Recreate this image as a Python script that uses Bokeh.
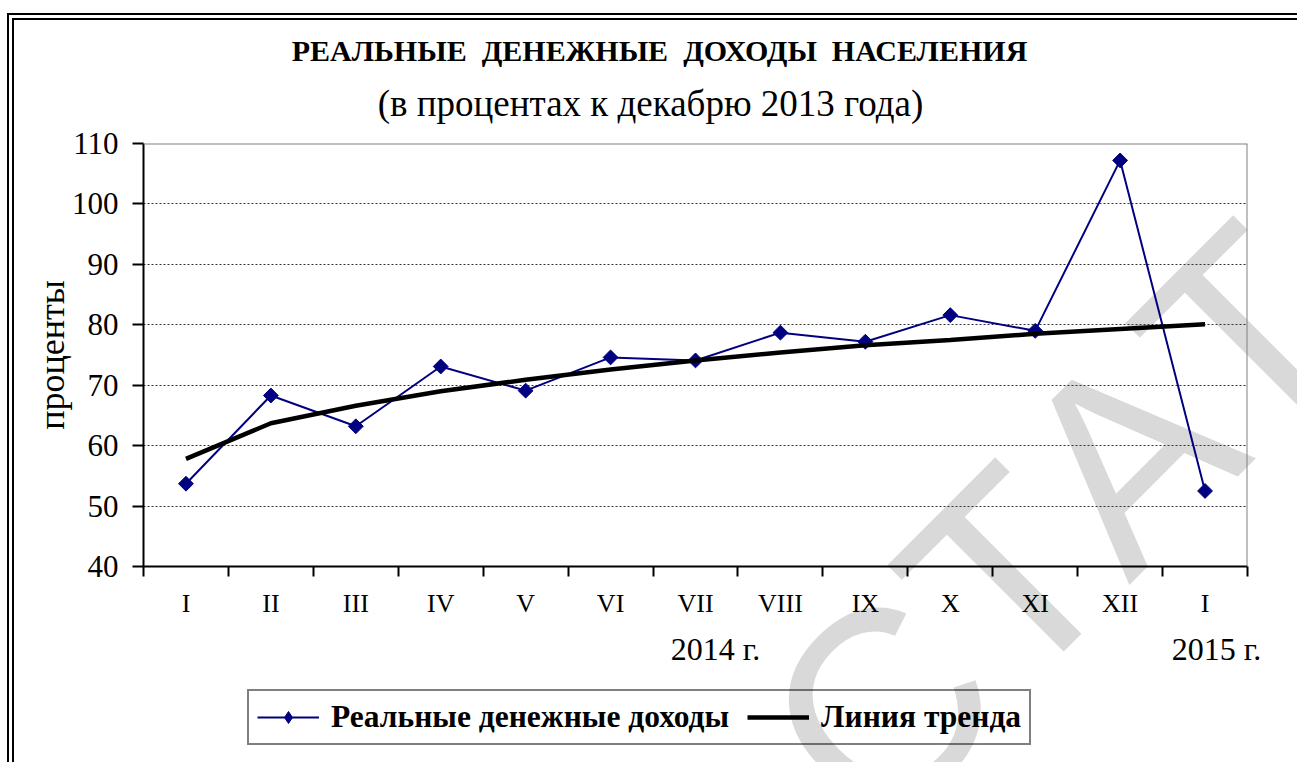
import numpy as np
from bokeh.plotting import figure
from bokeh.layouts import column
from bokeh.core.properties import value
from bokeh.models import (Range1d, FixedTicker, LinearAxis, Legend, LegendItem,
                          InlineStyleSheet, GlobalInlineStyleSheet, Span)
from bokeh.embed import file_html
from bokeh.resources import INLINE

# ---------------- data ----------------
months = ["I", "II", "III", "IV", "V", "VI", "VII", "VIII", "IX", "X", "XI", "XII", "I"]
incomes = [53.7, 68.3, 63.2, 73.1, 69.1, 74.6, 74.1, 78.7, 77.2, 81.6, 79.0, 107.2, 52.5]
trend = [57.8, 63.7, 66.6, 69.0, 70.9, 72.6, 74.1, 75.4, 76.6, 77.5, 78.5, 79.3, 80.1]
years = ["2014 г.", "2015 г."]
y_ticks = [40, 50, 60, 70, 80, 90, 100, 110]
grid_ticks = [50, 60, 70, 80, 90, 100]
title = "РЕАЛЬНЫЕ\u00a0 ДЕНЕЖНЫЕ\u00a0 ДОХОДЫ\u00a0 НАСЕЛЕНИЯ"
subtitle = "(в процентах к декабрю 2013 года)"
y_label = "проценты"
series_names = ["Реальные денежные доходы", "Линия тренда"]
watermark = ["С", "Т", "А", "Т"]

# ---------------- layout constants (page pixels) ----------------
OX, OY = 14, 20                 # canvas origin on the page (inside the double border)
W, H = 1300, 750                # canvas size (runs past the window edge, like the reference)
FL, FR, FT, FB = 143, 1247, 143, 566   # plot frame on the page
SERIF = "Liberation Serif"
xpos = [i + 0.5 for i in range(len(months))]

def dx(px):
    return (px - FL) / (FR - FL) * 13.0

# ---------------- background canvas: watermark, titles, legend ----------------
bg = figure(width=W, height=H, x_range=Range1d(OX, OX + W), y_range=Range1d(OY + H, OY),
            output_backend="svg", toolbar_location=None, min_border=0,
            min_border_left=0, min_border_right=0, min_border_top=0, min_border_bottom=0,
            x_axis_location=None, y_axis_location=None)
bg.frame_align = False
bg.grid.visible = False
bg.outline_line_color = None
bg.background_fill_color = "white"
bg.border_fill_color = "white"

wm_x = [880, 1006, 1126, 1244]
wm_y = [708, 576, 455, 334]
bg.text(x=wm_x, y=wm_y, text=watermark, angle=45, angle_units="deg",
        text_font=value("Liberation Sans"), text_font_size="270px",
        text_color="#d9d9d9", text_align="center", text_baseline="middle")

bg.text(x=[659], y=[50], text=[title], text_font=value(SERIF), text_font_style="bold",
        text_font_size="30px", text_align="center", text_baseline="alphabetic",
        text_color="black")
bg.text(x=[650], y=[103], text=[subtitle], text_font=value(SERIF),
        text_font_size="37px", text_align="center", text_baseline="alphabetic",
        text_color="black")

# legend key styles (same series, used only to draw the legend keys)
kl1 = bg.line(xpos, incomes, line_color="#000080", line_width=2, visible=False)
ks1 = bg.scatter(xpos, incomes, marker="diamond", size=14,
                 fill_color="#000080", line_color="#000080", visible=False)
kl2 = bg.line(xpos, trend, line_color="black", line_width=4.5, visible=False)
legend = Legend(items=[LegendItem(label=series_names[0], renderers=[kl1, ks1]),
                       LegendItem(label=series_names[1], renderers=[kl2])],
                orientation="horizontal", location=(247 - OX, OY + H - 745), margin=0,
                border_line_color="black", border_line_width=2,
                background_fill_alpha=0, inactive_fill_alpha=0,
                label_text_font=SERIF, label_text_color="black",
                label_text_font_style="bold", label_text_font_size="31.5px",
                glyph_width=62, glyph_height=30, label_standoff=12, spacing=18,
                padding=8)
bg.add_layout(legend)

# ---------------- main chart ----------------
p = figure(width=W, height=H, x_range=Range1d(0, 13), y_range=Range1d(40, 110),
           output_backend="svg", toolbar_location=None,
           min_border_left=FL - OX, min_border_right=OX + W - FR,
           min_border_top=FT - OY, min_border_bottom=OY + H - FB)
p.frame_align = False
p.background_fill_alpha = 0
p.border_fill_alpha = 0
p.outline_line_color = None
p.stylesheets = [InlineStyleSheet(css=":host{margin-top:-%dpx;}" % H)]

# grid
p.xgrid.visible = False
p.ygrid.ticker = FixedTicker(ticks=grid_ticks)
p.ygrid.grid_line_color = "#333333"
p.ygrid.grid_line_dash = "2 2"
p.ygrid.grid_line_width = 1

# plot area border (top / right)
p.add_layout(Span(location=110, dimension="width", line_color="#808080", line_width=2))
p.add_layout(Span(location=13, dimension="height", line_color="#808080", line_width=2))

# y axis
ya = p.yaxis[0]
ya.ticker = FixedTicker(ticks=y_ticks)
ya.axis_line_width = 2
ya.axis_line_color = "black"
ya.major_tick_line_width = 2
ya.major_tick_out = 11
ya.major_tick_in = 0
ya.minor_tick_line_color = None
ya.major_label_standoff = 14
ya.major_label_text_font = SERIF
ya.major_label_text_font_size = "31px"
ya.major_label_text_color = "black"
ya.axis_label = y_label
ya.axis_label_text_font = SERIF
ya.axis_label_text_font_size = "36px"
ya.axis_label_text_font_style = "normal"
ya.axis_label_text_color = "black"
ya.axis_label_standoff = -3

# x axis: boundary ticks
xa = p.xaxis[0]
xa.ticker = FixedTicker(ticks=list(range(14)))
xa.axis_line_width = 2
xa.axis_line_color = "black"
xa.major_tick_line_width = 2
xa.major_tick_out = 10
xa.major_tick_in = 0
xa.minor_tick_line_color = None
xa.major_label_text_font_size = "1px"
xa.major_label_text_alpha = 0
xa.major_label_standoff = 0

# x axis: month labels at category centres
lab_axis = LinearAxis(ticker=FixedTicker(ticks=xpos),
                      major_label_overrides={xpos[i]: months[i] for i in range(len(months))},
                      axis_line_color=None, major_tick_line_color=None,
                      minor_tick_line_color=None, major_tick_out=0, major_tick_in=0,
                      major_label_standoff=12, major_label_text_font=SERIF,
                      major_label_text_font_size="26px", major_label_text_color="black")
p.add_layout(lab_axis, "below")

# x axis: year captions
ypos = [round(dx(715), 3), round(dx(1216), 3)]
year_axis = LinearAxis(ticker=FixedTicker(ticks=ypos),
                       major_label_overrides={ypos[i]: years[i] for i in range(len(years))},
                       axis_line_color=None, major_tick_line_color=None,
                       minor_tick_line_color=None, major_tick_out=0, major_tick_in=0,
                       major_label_standoff=10, major_label_text_font=SERIF,
                       major_label_text_font_size="32px", major_label_text_color="black")
p.add_layout(year_axis, "below")

# series
l1 = p.line(xpos, incomes, line_color="#000080", line_width=2)
s1 = p.scatter(xpos, incomes, marker="square", angle=np.pi / 4, size=10.5,
               fill_color="#000080", line_color="#000080")
l2 = p.line(xpos, trend, line_color="black", line_width=4.5)

layout = column(bg, p, stylesheets=[
    GlobalInlineStyleSheet(css="html,body{overflow:hidden;margin:0;padding:0;}"),
    InlineStyleSheet(css=":host{margin-left:7px;margin-top:13px;"
                         "border-left:7px double #000;border-top:7px double #000;}")])

open("out.html", "w").write(file_html(layout, INLINE))
